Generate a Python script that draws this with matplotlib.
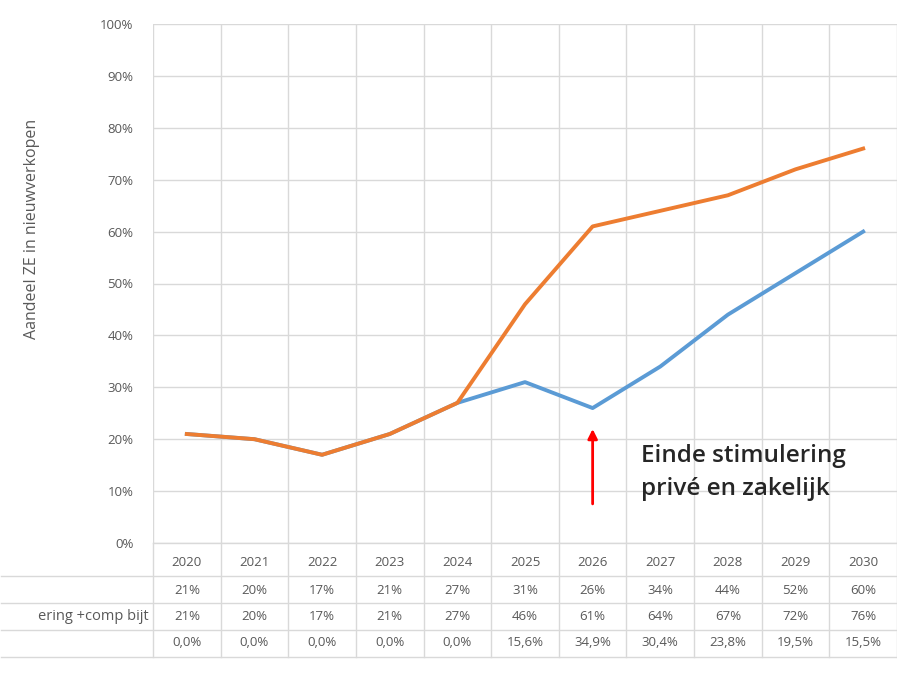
import matplotlib.pyplot as plt
import matplotlib.transforms as mtransforms
import numpy as np

years = ['2020', '2021', '2022', '2023', '2024', '2025', '2026', '2027', '2028', '2029', '2030']
zonder = [21, 20, 17, 21, 27, 31, 26, 34, 44, 52, 60]
met = [21, 20, 17, 21, 27, 46, 61, 64, 67, 72, 76]
verschil = ['0,0%', '0,0%', '0,0%', '0,0%', '0,0%', '15,6%', '34,9%', '30,4%', '23,8%', '19,5%', '15,5%']
# only the visible part of the row labels (the rest is cut off in the source)
row_labels = ['', 'ering +comp bijt', '']

BLUE = '#5B9BD5'
ORANGE = '#ED7D31'
GRID = '#D9D9D9'
TXT = '#595959'

plt.rcParams['font.family'] = ['Open Sans', 'DejaVu Sans']

W, H = 897, 675
fig = plt.figure(figsize=(W / 100, H / 100), dpi=100)
ax = fig.add_axes([153 / W, 1 - 543 / H, (897 - 153) / W, (543 - 24) / H])

x = np.arange(len(years))
ax.plot(x, zonder, color=BLUE, lw=2.8, solid_joinstyle='round', zorder=3)
ax.plot(x, met, color=ORANGE, lw=2.8, solid_joinstyle='round', zorder=4)

ax.set_xlim(-0.5, len(years) - 0.5)
ax.set_ylim(0, 100)
ax.set_yticks(np.arange(0, 101, 10))
ax.set_yticklabels([f'{v}%' for v in range(0, 101, 10)], color=TXT, fontsize=9.5)
ax.set_xticks(np.arange(-0.5, len(years), 1))
ax.set_xticklabels([])
ax.tick_params(length=0, pad=14)
ax.grid(True, color=GRID, lw=1)
for s in ax.spines.values():
    s.set_visible(False)
ax.set_ylabel('Aandeel ZE in nieuwverkopen', color=TXT, fontsize=11.5)
ax.yaxis.set_label_coords(-0.152, 0.605)

# data table under the chart
trans = mtransforms.blended_transform_factory(ax.transData, ax.transAxes)
ppx = 1 / 519  # one pixel in axes fraction (vertical)
row_y = [-(562 - 543) * ppx, -(590 - 543) * ppx, -(617 - 543) * ppx, -(643 - 543) * ppx]
line_y = [0, -(576 - 543) * ppx, -(603 - 543) * ppx, -(630 - 543) * ppx, -(657 - 543) * ppx]

rows = [years, [f'{v}%' for v in zonder], [f'{v}%' for v in met], verschil]
for r, vals in enumerate(rows):
    for i, v in enumerate(vals):
        ax.text(i, row_y[r], v, transform=trans, ha='center', va='center',
                fontsize=9.5, color=TXT, clip_on=False)

for k, lab in enumerate(row_labels):
    ax.text(-0.57, row_y[k + 1], lab, transform=trans, ha='right', va='center',
            fontsize=10.5, color=TXT, clip_on=False)

# table lines
xmin_data = -0.5 - 153 / 68
for k, yy in enumerate(line_y):
    x0 = -0.5 if k == 0 else xmin_data
    ax.plot([x0, len(years) - 0.5], [yy, yy], transform=trans, color=GRID,
            lw=1, clip_on=False)
for b in np.arange(-0.5, len(years), 1):
    ax.plot([b, b], [0, line_y[-1]], transform=trans, color=GRID, lw=1, clip_on=False)

# annotation
ax.annotate('', xy=(6, 22.5), xytext=(6, 7),
            arrowprops=dict(arrowstyle='-|>', color='#FF0000', lw=2,
                            mutation_scale=14))
ax.text(6.72, 13.6, 'Einde stimulering\nprivé en zakelijk', fontsize=17.5,
        fontweight='semibold', color='#262626', ha='left', va='center',
        linespacing=1.5)

fig.savefig('out.png', dpi=100)
